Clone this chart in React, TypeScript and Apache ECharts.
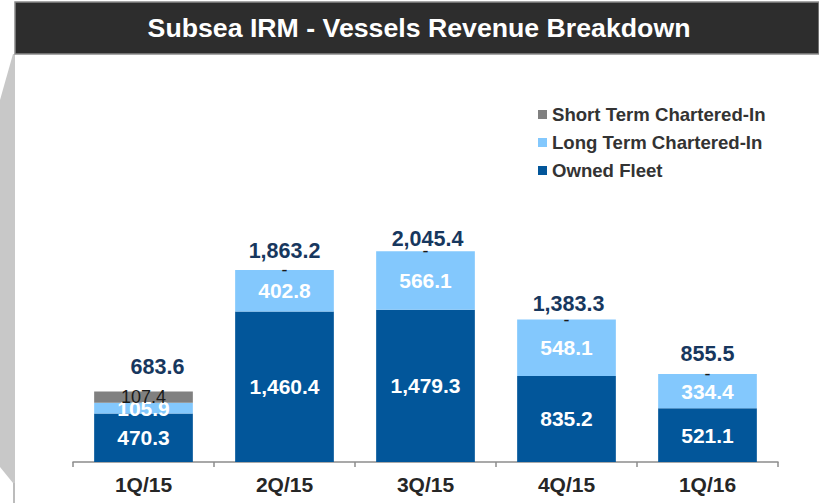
import React, { useEffect, useRef } from 'react';
import * as echarts from 'echarts';

const categories = ['1Q/15', '2Q/15', '3Q/15', '4Q/15', '1Q/16'];
const ownedFleet = [470.3, 1460.4, 1479.3, 835.2, 521.1];
const longTermChartered = [105.9, 402.8, 566.1, 548.1, 334.4];
const shortTermChartered = [107.4, 0, 0, 0, 0];
const totals = [683.6, 1863.2, 2045.4, 1383.3, 855.5];
const totalLabelDistance = [14, 8, 1, 5, 9];
const totalLabelShiftX = [14, 0, 2, 2, 0];

const FONT = '"Liberation Sans", Arial, sans-serif';

const fmt = (v: number) =>
  v === 0 ? '-' : v.toLocaleString('en-US', { minimumFractionDigits: 1, maximumFractionDigits: 1 });

export default function App() {
  const ref = useRef<HTMLDivElement>(null);
  useEffect(() => {
    if (!ref.current) return;
    const chart = echarts.init(ref.current, null, { renderer: 'svg' });
    const valueLabel = {
      show: true,
      position: 'inside',
      color: '#ffffff',
      fontSize: 21,
      fontWeight: 'bold',
      fontFamily: FONT,
      formatter: (p: any) => fmt(p.value),
    };
    chart.setOption({
      animation: false,
      backgroundColor: '#ffffff',
      textStyle: { fontFamily: FONT },
      graphic: [
        {
          type: 'polygon',
          shape: { points: [[0, 100], [13, 54], [15, 54], [15, 483], [13, 483], [0, 467]] },
          style: { fill: '#c8c8c8' },
          z: 0,
        },
        {
          type: 'line',
          shape: { x1: 14, y1: 483, x2: 14, y2: 503 },
          style: { stroke: '#a6a6a6', lineWidth: 1.5 },
        },
        {
          type: 'rect',
          shape: { x: 15, y: 2, width: 804, height: 52 },
          style: { fill: '#2d2d2d', stroke: '#8a8a8a', lineWidth: 1.5 },
        },
        {
          type: 'text',
          x: 419,
          y: 28,
          style: {
            text: 'Subsea IRM - Vessels Revenue Breakdown',
            fill: '#ffffff',
            fontSize: 26.7,
            fontWeight: 'bold',
            fontFamily: FONT,
            textAlign: 'center',
            textVerticalAlign: 'middle',
            align: 'center',
            verticalAlign: 'middle',
          },
        },
      ],
      legend: {
        orient: 'vertical',
        left: 533,
        top: 100,
        itemWidth: 9,
        itemHeight: 9,
        itemGap: 9,
        icon: 'rect',
        data: ['Short Term Chartered-In', 'Long Term Chartered-In', 'Owned Fleet'],
        textStyle: { fontSize: 18.6, fontWeight: 'bold', color: '#333333', fontFamily: FONT },
      },
      grid: { left: 73, right: 41, top: 50, bottom: 41 },
      xAxis: {
        type: 'category',
        data: categories,
        axisLine: { lineStyle: { color: '#8c8c8c', width: 1.5 } },
        axisTick: { show: true, length: 5, lineStyle: { color: '#8c8c8c', width: 1.5 } },
        axisLabel: { margin: 12, fontSize: 21, fontWeight: 'bold', color: '#262626', fontFamily: FONT },
      },
      yAxis: { type: 'value', min: 0, max: 4000, show: false, splitLine: { show: false } },
      series: [
        {
          name: 'Owned Fleet',
          type: 'bar',
          stack: 'rev',
          barWidth: '70%',
          barGap: '-100%',
          data: ownedFleet,
          itemStyle: { color: '#02569A' },
          label: valueLabel,
        },
        {
          name: 'Long Term Chartered-In',
          type: 'bar',
          stack: 'rev',
          data: longTermChartered,
          itemStyle: { color: '#83C8FD' },
          label: valueLabel,
        },
        {
          name: 'Short Term Chartered-In',
          type: 'bar',
          stack: 'rev',
          data: shortTermChartered,
          itemStyle: { color: '#808080' },
          label: {
            show: true,
            position: 'inside',
            color: '#1a1a1a',
            fontSize: 18,
            fontFamily: FONT,
            formatter: (p: any) => fmt(p.value),
          },
        },
        {
          name: 'Total',
          type: 'bar',
          barWidth: '70%',
          barGap: '-100%',
          data: totals.map((v, i) => ({
            value: v,
            label: { distance: totalLabelDistance[i], offset: [totalLabelShiftX[i], 0] },
          })),
          itemStyle: { color: 'transparent' },
          label: {
            show: true,
            position: 'top',
            color: '#17375E',
            fontSize: 21.5,
            fontWeight: 'bold',
            fontFamily: FONT,
            formatter: (p: any) => fmt(p.value),
          },
          z: 1,
        },
      ],
    });
    return () => chart.dispose();
  }, []);
  return (
    <div
      ref={ref}
      style={{ position: 'fixed', left: 0, top: 0, width: 819, height: 503, background: '#fff' }}
    />
  );
}
